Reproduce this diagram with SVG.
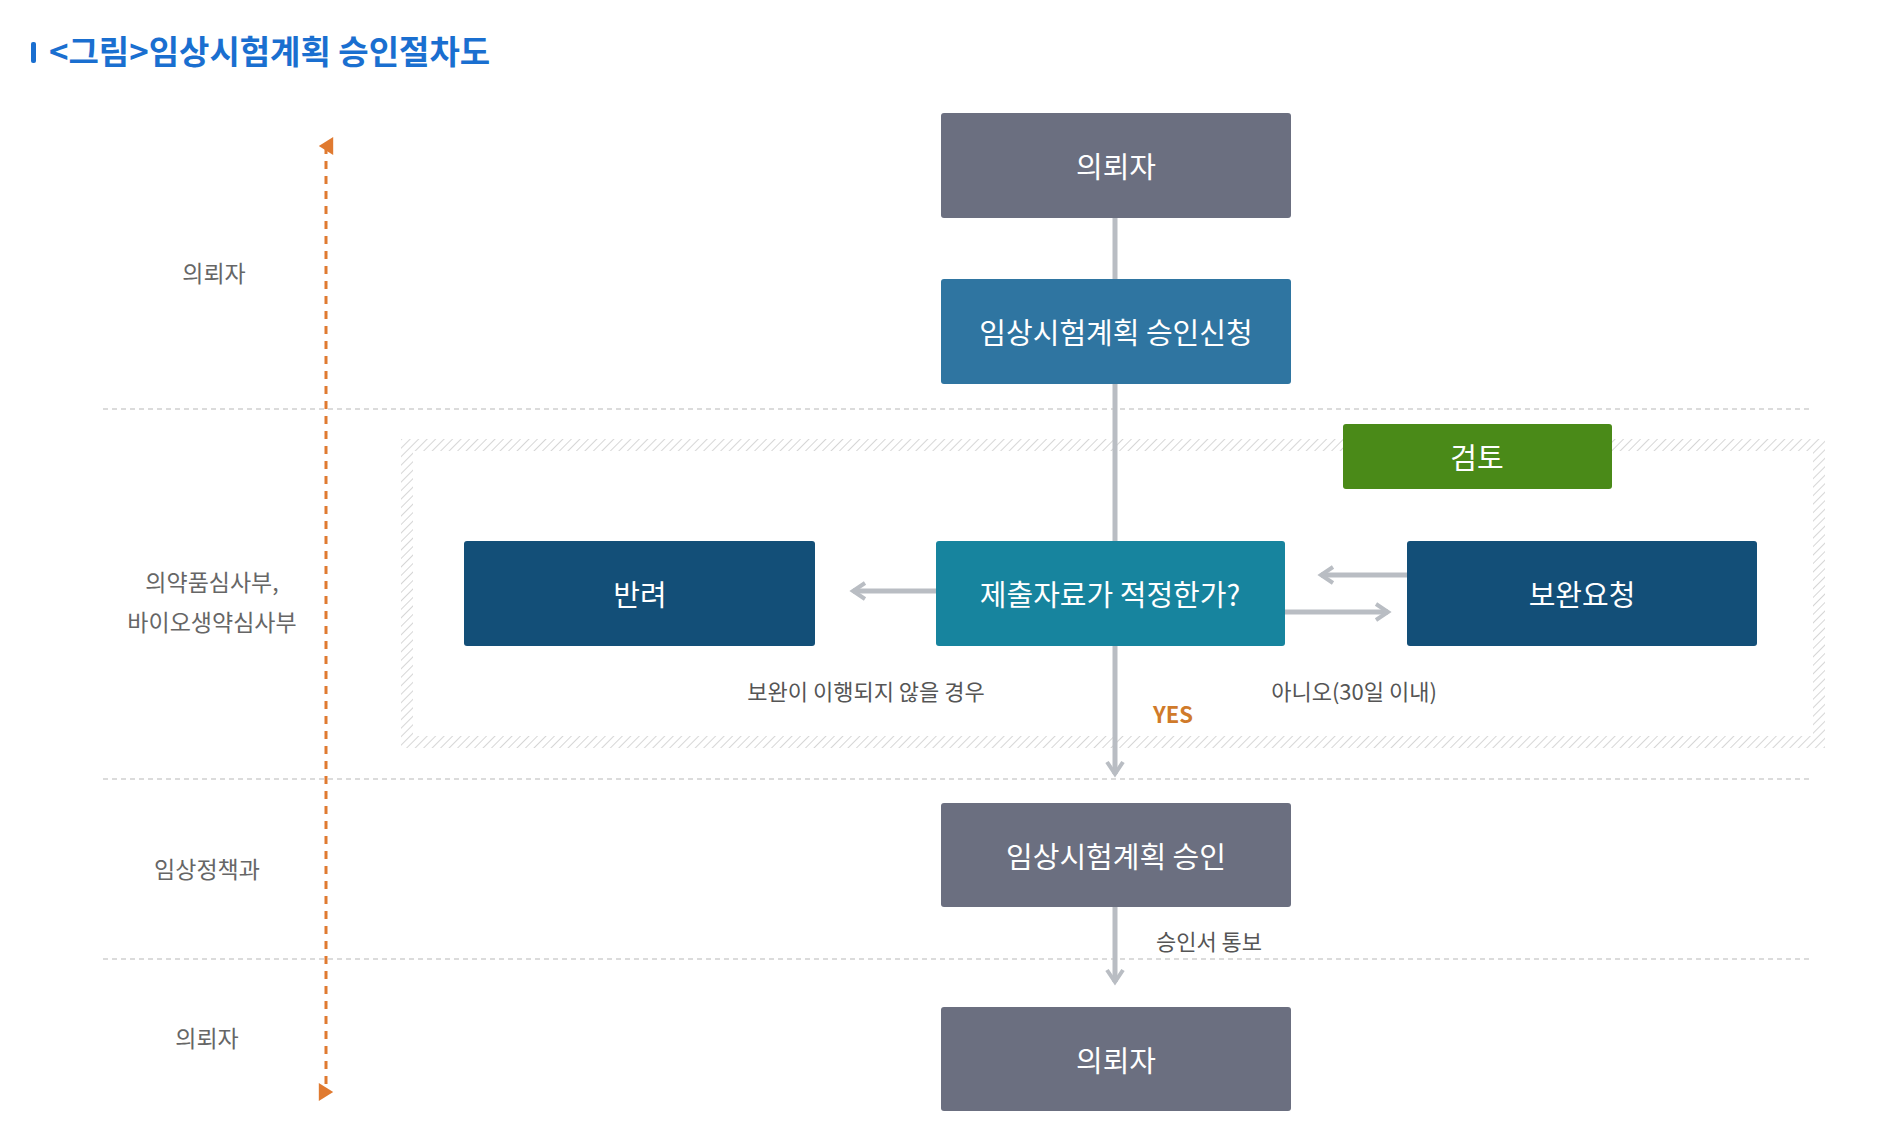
<svg xmlns="http://www.w3.org/2000/svg" width="1882" height="1144" viewBox="0 0 1882 1144">
<defs>
<style>
text{font-family:"Noto Sans CJK KR","Noto Sans",sans-serif}
.bt{fill:#fff;font-size:29px;text-anchor:middle;dominant-baseline:central}
.lane{fill:#666;font-size:23px;text-anchor:middle;dominant-baseline:central}
.lbl{fill:#555;font-size:22px;text-anchor:middle;dominant-baseline:central}
.sep{stroke:#cfcfcf;stroke-width:1.5;stroke-dasharray:5 4}
.c{stroke:#b9bdc3;stroke-width:5;fill:none}
</style>
<pattern id="hatch" width="6" height="6" patternUnits="userSpaceOnUse" patternTransform="rotate(45)">
<line x1="0" y1="0" x2="0" y2="6" stroke="#c8c8c8" stroke-width="1.5"/>
</pattern>
<marker id="ah" viewBox="0 0 10 10" refX="8" refY="5" markerWidth="4" markerHeight="4" orient="auto" markerUnits="strokeWidth">
<path d="M2,1 L8,5 L2,9" fill="none" stroke="#b9bdc3" stroke-width="2"/>
</marker>
<marker id="oa" viewBox="0 0 10 10" refX="5" refY="5" markerWidth="6" markerHeight="6" orient="auto-start-reverse" markerUnits="strokeWidth">
<path d="M0,9 L5,1 L10,9 Z" fill="#e07a30"/>
</marker>
</defs>
<rect width="1882" height="1144" fill="#fff"/>
<g id="title">
<rect x="31" y="42" width="5" height="21" rx="2" fill="#1a6fd0"/>
<text x="49" y="64" font-size="33" font-weight="bold" fill="#1a6fd0">&lt;그림&gt;임상시험계획 승인절차도</text>
</g>
<g id="lanes">
<line class="sep" x1="103" y1="409" x2="1811" y2="409"/>
<line class="sep" x1="103" y1="779" x2="1811" y2="779"/>
<line class="sep" x1="103" y1="959" x2="1811" y2="959"/>
<line x1="326" y1="146" x2="326" y2="1092" stroke="#e07a30" stroke-width="3" stroke-dasharray="8 7" marker-start="url(#oa)" marker-end="url(#oa)"/>
<text class="lane" x="214" y="272">의뢰자</text>
<text class="lane" x="212" y="581">의약품심사부,</text>
<text class="lane" x="212" y="621">바이오생약심사부</text>
<text class="lane" x="207" y="868">임상정책과</text>
<text class="lane" x="207" y="1037">의뢰자</text>
</g>
<g id="review-area">
<rect x="407" y="445" width="1412" height="297" fill="none" stroke="url(#hatch)" stroke-width="12"/>
</g>
<g id="connectors">
<line class="c" x1="1115" y1="218" x2="1115" y2="279"/>
<line class="c" x1="1115" y1="384" x2="1115" y2="541"/>
<line class="c" x1="1115" y1="646" x2="1115" y2="774" marker-end="url(#ah)"/>
<line class="c" x1="1115" y1="907" x2="1115" y2="982" marker-end="url(#ah)"/>
<line class="c" x1="936" y1="591" x2="853" y2="591" marker-end="url(#ah)"/>
<line class="c" x1="1285" y1="612" x2="1388" y2="612" marker-end="url(#ah)"/>
<line class="c" x1="1407" y1="575" x2="1321" y2="575" marker-end="url(#ah)"/>
<text class="lbl" x="866" y="690">보완이 이행되지 않을 경우</text>
<text class="lbl" x="1354" y="690">아니오(30일 이내)</text>
<text x="1173" y="713" font-size="22" font-weight="bold" fill="#d07a2a" text-anchor="middle" dominant-baseline="central">YES</text>
<text class="lbl" x="1209" y="940">승인서 통보</text>
</g>
<g id="n-requester"><rect x="941" y="113" width="350" height="105" rx="3" fill="#6b6f80"/><text class="bt" x="1116" y="165">의뢰자</text></g>
<g id="n-apply"><rect x="941" y="279" width="350" height="105" rx="3" fill="#2f75a1"/><text class="bt" x="1116" y="331">임상시험계획 승인신청</text></g>
<g id="n-review"><rect x="1343" y="424" width="269" height="65" rx="3" fill="#4a8a18"/><text class="bt" x="1477" y="456">검토</text></g>
<g id="n-reject"><rect x="464" y="541" width="351" height="105" rx="3" fill="#134f78"/><text class="bt" x="640" y="593">반려</text></g>
<g id="n-check"><rect x="936" y="541" width="349" height="105" rx="3" fill="#17849e"/><text class="bt" x="1110" y="593">제출자료가 적정한가?</text></g>
<g id="n-supplement"><rect x="1407" y="541" width="350" height="105" rx="3" fill="#134f78"/><text class="bt" x="1582" y="593">보완요청</text></g>
<g id="n-approve"><rect x="941" y="803" width="350" height="104" rx="3" fill="#6b6f80"/><text class="bt" x="1116" y="855">임상시험계획 승인</text></g>
<g id="n-requester2"><rect x="941" y="1007" width="350" height="104" rx="3" fill="#6b6f80"/><text class="bt" x="1116" y="1059">의뢰자</text></g>
</svg>
